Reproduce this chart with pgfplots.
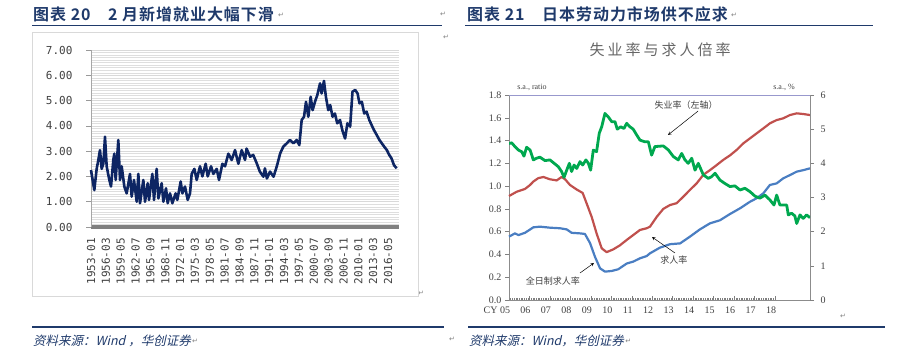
\documentclass[border=0pt]{standalone}
\usepackage{fontspec}
\usepackage{pgfplots}
\pgfplotsset{compat=1.18}
\setmainfont{Liberation Serif}
\newfontfamily\cjk{Noto Sans CJK SC}
\newfontfamily\cjkb{Noto Sans CJK SC Bold}[LetterSpace=6]
\newfontfamily\cjki{Noto Sans CJK SC}[FakeSlant=0.22]
\newfontfamily\cjkt{Noto Sans CJK SC}[LetterSpace=20]
\newfontfamily\monof{DejaVu Sans Mono}
\newfontfamily\symf{DejaVu Sans}
\definecolor{hdr}{HTML}{1F3A6B}
\definecolor{lnavy}{HTML}{0D2563}
\definecolor{jgreen}{HTML}{00A84F}
\definecolor{jred}{HTML}{C0504D}
\definecolor{jblue}{HTML}{4A7EC2}
\definecolor{lbl}{HTML}{404040}
\definecolor{boxg}{HTML}{D9D9D9}
\newcommand{\ret}{{\symf\fontsize{7}{7}\selectfont\color{gray}↵}}
\begin{document}
\begin{tikzpicture}[x=1pt,y=1pt]
\useasboundingbox (0,0) rectangle (897,359);
% headings
\node[anchor=west, inner sep=0pt, text=hdr] at (33,345) {\cjkb\fontsize{16}{16}\selectfont 图表 20\hspace{1.1em}2 月新增就业大幅下滑};
\node at (281,344) {\ret};
\node[anchor=west, inner sep=0pt, text=hdr] at (467,345) {\cjkb\fontsize{16}{16}\selectfont 图表 21\hspace{1.1em}日本劳动力市场供不应求};
\node at (734,344) {\ret};
\draw[hdr, line width=1.2pt] (32,333.5) -- (442,333.5);
\draw[hdr, line width=1.2pt] (465,333.5) -- (873,333.5);
\node at (443,345) {\ret};
\node at (446,322) {\ret};
\node at (421,66) {\ret};
\node at (843,43) {\ret};
% left box
\draw[boxg, line width=0.8pt] (32,63) rectangle (418,327);
% footers
\draw[hdr, line width=1.2pt] (32,32) -- (444,32);
\draw[hdr, line width=1.2pt] (468,32) -- (885,32);
\node[anchor=west, inner sep=0pt, text=hdr] (f1) at (33,18) {\cjki\fontsize{12.5}{12.5}\selectfont 资料来源：Wind ，华创证券};
\node[anchor=west, inner sep=1pt] at (f1.east) {\ret};
\node[anchor=west, inner sep=0pt, text=hdr] (f2) at (469,18) {\cjki\fontsize{12.5}{12.5}\selectfont 资料来源：Wind，华创证券};
\node[anchor=west, inner sep=1pt] at (f2.east) {\ret};
\node at (452,20) {\ret};
% right chart title and unit labels
\node[text=black!60] at (660,309) {\cjkt\fontsize{15}{15}\selectfont 失业率与求人倍率};
\node[text=lbl, font=\fontsize{8}{8}\selectfont] at (532,272) {s.a., ratio};
\node[text=lbl, font=\fontsize{8}{8}\selectfont] at (784,272) {s.a., \%};

% ---------------- left chart ----------------
\begin{axis}[
  at={(91pt,132pt)}, anchor=south west, scale only axis,
  width=308pt, height=177pt,
  xmin=0, xmax=788, ymin=0, ymax=7,
  axis x line*=bottom, axis y line*=left,
  x axis line style={line width=4pt, color=black!50},
  y axis line style={color=black!35, line width=0.6pt},
  xtick={0,38,...,760},
  xticklabels={1953-01,1956-03,1959-05,1962-07,1965-09,1968-11,1972-01,1975-03,1978-05,1981-07,1984-09,1987-11,1991-01,1994-03,1997-05,2000-07,2003-09,2006-11,2010-01,2013-03,2016-05},
  xtick style={draw=none},
  ytick={0,1,2,3,4,5,6,7},
  minor y tick num=9,
  ymajorgrids, yminorgrids,
  major grid style={color=black!15, line width=0.5pt},
  minor grid style={color=black!13, line width=0.45pt},
  tick align=outside, major tick length=5pt, minor tick length=0pt,
  ytick style={color=black!40, line width=0.6pt},
  /pgf/number format/assume math mode=true,
  yticklabel style={/pgf/number format/.cd, fixed, fixed zerofill, precision=2},
  tick label style={font=\monof\fontsize{11}{11}\selectfont, text=lbl},
  xticklabel style={rotate=90, anchor=east, inner sep=0pt},
  xticklabel shift=6pt,
  yticklabel shift=10pt,
  clip=false,
]
\addplot[lnavy, line width=2.6pt, line join=round] coordinates {
(0,2.25) (8.5,1.46) (14.5,2.3) (18.8,2.65) (23,3.04) (27.3,2.3) (31.6,2.5) (35.8,3.57)
(40.1,2.4) (46.1,1.92) (51.2,1.6) (57.1,2.65) (59.7,2.9) (63.1,1.86) (69.9,3.44) (74.2,1.86)
(78.5,2.4) (85.3,1.6) (91.3,1.33) (99.8,2.1) (104.1,1.2) (110,1.86) (116.9,1.0) (121.1,2.1)
(125.4,0.94) (133.9,1.86) (138.2,1.0) (145,1.73) (148.4,1.07) (156.9,2.1) (161.2,1.07) (168,2.3)
(172.3,1.13) (180.8,1.73) (185.1,1.0) (191.9,1.53) (196.2,0.94) (202.1,1.33) (208.1,0.94) (216.6,1.33)
(220.9,1.07) (229.4,1.8) (233.7,1.33) (240.5,1.6) (247.4,1.07) (253.3,1.33) (257.6,2.1) (264.4,2.3)
(270.4,1.86) (278.9,2.4) (284.9,2.0) (293.4,2.5) (298.5,2.0) (307.1,2.4) (313,2.1) (321.6,2.3)
(327.5,1.86) (336.1,2.5) (342.9,2.4) (351.4,2.9) (359.9,2.65) (368.5,3.04) (377,2.5) (385.5,3.04)
(394.1,2.65) (398,3.1) (407,2.78) (415,2.85) (424,2.52) (432,2.19) (441,1.99) (445,2.32)
(450,1.92) (458,2.19) (467,1.99) (475,2.38) (484,2.91) (492,3.18) (501,3.31) (509,3.44)
(518,3.31) (526,3.44) (533,3.24) (539,4.23) (545,4.36) (550,4.95) (556,4.36) (562,5.15)
(567,4.62) (573,4.95) (579,5.22) (586,5.68) (590,5.28) (596,5.78) (601,5.15) (607,4.62)
(612,4.82) (618,4.36) (624,4.49) (630,4.1) (637,4.23) (643,3.83) (650,3.5) (656,4.1)
(663,3.97) (669,5.35) (676,5.42) (682,5.28) (687,4.89) (693,4.95) (699,4.49) (705,4.56)
(712,4.23) (718,4.03) (724,3.83) (731,3.64) (738,3.44) (744,3.31) (750,3.18) (757,3.04)
(763,2.85) (769,2.71) (775,2.45) (782,2.32)
};
\end{axis}

% ---------------- right chart: left axis ----------------
\begin{axis}[
  at={(509pt,59pt)}, anchor=south west, scale only axis,
  width=301pt, height=205pt,
  xmin=2005, xmax=2019.71, ymin=0, ymax=1.8,
  axis line style={color=black!45, line width=0.6pt},
  ytick={0,0.2,0.4,0.6,0.8,1.0,1.2,1.4,1.6,1.8},
  ytick pos=left, xtick pos=bottom,
  xtick={2005,2006,2007,2008,2009,2010,2011,2012,2013,2014,2015,2016,2017,2018},
  xticklabels={{\llap{CY }05},06,07,08,09,10,11,12,13,14,15,16,17,18},
  minor x tick num=11,
  xtick align=inside, ytick align=outside,
  major tick length=4pt, minor tick length=2pt,
  tick style={color=black!50, line width=0.5pt},
  /pgf/number format/assume math mode=true,
  yticklabel style={/pgf/number format/.cd, fixed, fixed zerofill, precision=1},
  tick label style={font=\fontsize{10}{10}\selectfont, text=lbl},
  xticklabel style={xshift=-4pt, yshift=-3pt},
  clip=false,
]
\draw[color=blue!35!gray!60, line width=0.8pt] (axis cs:2005,1.8) -- (axis cs:2019.71,1.8);
\addplot[jred, line width=2.2pt, line join=round] coordinates {
(2005.00,0.913) (2005.37,0.95) (2005.78,0.975) (2006.03,1.01) (2006.19,1.04) (2006.43,1.07)
(2006.68,1.08) (2007.00,1.06) (2007.33,1.05) (2007.57,1.08) (2007.74,1.06) (2007.98,1.01)
(2008.31,0.97) (2008.60,0.94) (2008.79,0.85) (2009.04,0.73) (2009.28,0.585) (2009.53,0.454)
(2009.77,0.42) (2010.10,0.445) (2010.42,0.48) (2010.75,0.527) (2011.07,0.57) (2011.40,0.615)
(2011.73,0.63) (2011.89,0.644) (2012.22,0.73) (2012.54,0.80) (2012.87,0.834) (2013.19,0.85)
(2013.52,0.907) (2013.84,0.966) (2014.17,1.024) (2014.50,1.10) (2014.82,1.14) (2015.15,1.185)
(2015.47,1.23) (2015.80,1.27) (2016.12,1.317) (2016.45,1.375) (2016.78,1.42) (2017.10,1.463)
(2017.43,1.507) (2017.75,1.551) (2018.08,1.58) (2018.40,1.595) (2018.73,1.624) (2019.06,1.639)
(2019.38,1.633) (2019.71,1.624)
};
\addplot[jblue, line width=2.2pt, line join=round] coordinates {
(2005.00,0.556) (2005.29,0.585) (2005.46,0.57) (2005.78,0.59) (2006.19,0.638) (2006.51,0.644)
(2007.00,0.635) (2007.49,0.63) (2007.82,0.62) (2008.06,0.59) (2008.47,0.585) (2008.71,0.58)
(2008.96,0.50) (2009.20,0.38) (2009.45,0.278) (2009.69,0.249) (2010.02,0.255) (2010.34,0.27)
(2010.75,0.32) (2011.07,0.337) (2011.40,0.366) (2011.73,0.386) (2011.89,0.41) (2012.38,0.46)
(2012.87,0.49) (2013.36,0.497) (2013.84,0.556) (2014.33,0.62) (2014.82,0.673) (2015.31,0.70)
(2015.80,0.755) (2016.29,0.805) (2016.78,0.863) (2017.10,0.893) (2017.43,0.937) (2017.75,1.01)
(2018.08,1.024) (2018.40,1.068) (2018.73,1.097) (2019.06,1.127) (2019.38,1.14) (2019.71,1.156)
};
\node[text=lbl, font=\cjk\fontsize{9}{9}\selectfont] at (axis cs:2013.65,1.712) {失业率（左轴）};
\draw[-stealth, black, line width=0.5pt] (axis cs:2014.24,1.659) -- (axis cs:2012.77,1.449);
\node[text=lbl, font=\cjk\fontsize{9}{9}\selectfont] at (axis cs:2013.06,0.351) {求人率};
\draw[-stealth, black, line width=0.5pt] (axis cs:2013.11,0.413) -- (axis cs:2011.99,0.553);
\node[text=lbl, font=\cjk\fontsize{9}{9}\selectfont] at (axis cs:2007.15,0.167) {全日制求人率};
\draw[-stealth, black, line width=0.5pt] (axis cs:2008.47,0.237) -- (axis cs:2009.15,0.325);
\end{axis}

% ---------------- right chart: right axis ----------------
\begin{axis}[
  at={(509pt,59pt)}, anchor=south west, scale only axis,
  width=301pt, height=205pt,
  xmin=2005, xmax=2019.71, ymin=0, ymax=6,
  axis x line=none, axis y line*=right,
  y axis line style={color=black!45, line width=0.6pt},
  ytick={0,1,2,3,4,5,6},
  tick align=outside, major tick length=4pt,
  tick style={color=black!50, line width=0.5pt},
  /pgf/number format/assume math mode=true,
  tick label style={font=\fontsize{10}{10}\selectfont, text=lbl},
  yticklabel style={xshift=3pt},
]
\addplot[jgreen, line width=2.8pt, line join=round] coordinates {
(2005.00,4.58) (2005.13,4.60) (2005.29,4.49) (2005.46,4.39) (2005.62,4.34) (2005.73,4.21)
(2005.86,4.47) (2006.03,4.39) (2006.19,4.10) (2006.35,4.15) (2006.51,4.18) (2006.76,4.08)
(2007.00,4.10) (2007.25,3.98) (2007.41,3.90) (2007.57,3.76) (2007.69,3.59) (2007.82,3.80)
(2007.95,4.0) (2008.06,3.76) (2008.18,3.95) (2008.31,3.85) (2008.47,4.05) (2008.60,3.95)
(2008.76,4.10) (2008.88,4.0) (2008.99,3.80) (2009.12,4.39) (2009.28,4.34) (2009.41,4.88)
(2009.53,5.07) (2009.69,5.46) (2009.85,5.36) (2010.02,5.22) (2010.18,5.22) (2010.29,5.0)
(2010.46,5.07) (2010.62,5.02) (2010.75,5.17) (2010.91,5.07) (2011.07,5.0) (2011.24,4.83)
(2011.40,4.68) (2011.64,4.63) (2011.81,4.63) (2011.97,4.24) (2012.13,4.49) (2012.54,4.51)
(2012.79,4.39) (2013.03,4.20) (2013.27,4.10) (2013.44,4.29) (2013.60,4.10) (2013.76,4.0)
(2013.93,4.15) (2014.09,3.80) (2014.25,4.0) (2014.50,3.66) (2014.74,3.56) (2014.90,3.61)
(2015.07,3.71) (2015.31,3.51) (2015.55,3.41) (2015.80,3.32) (2016.04,3.34) (2016.29,3.22)
(2016.53,3.27) (2016.78,3.17) (2017.02,3.04) (2017.26,2.98) (2017.51,3.07) (2017.75,2.93)
(2017.95,2.78) (2018.08,3.07) (2018.24,2.78) (2018.40,2.78) (2018.57,2.78) (2018.65,2.49)
(2018.81,2.54) (2018.97,2.46) (2019.06,2.24) (2019.22,2.49) (2019.38,2.39) (2019.54,2.49)
(2019.71,2.41)
};
\end{axis}
\end{tikzpicture}
\end{document}
